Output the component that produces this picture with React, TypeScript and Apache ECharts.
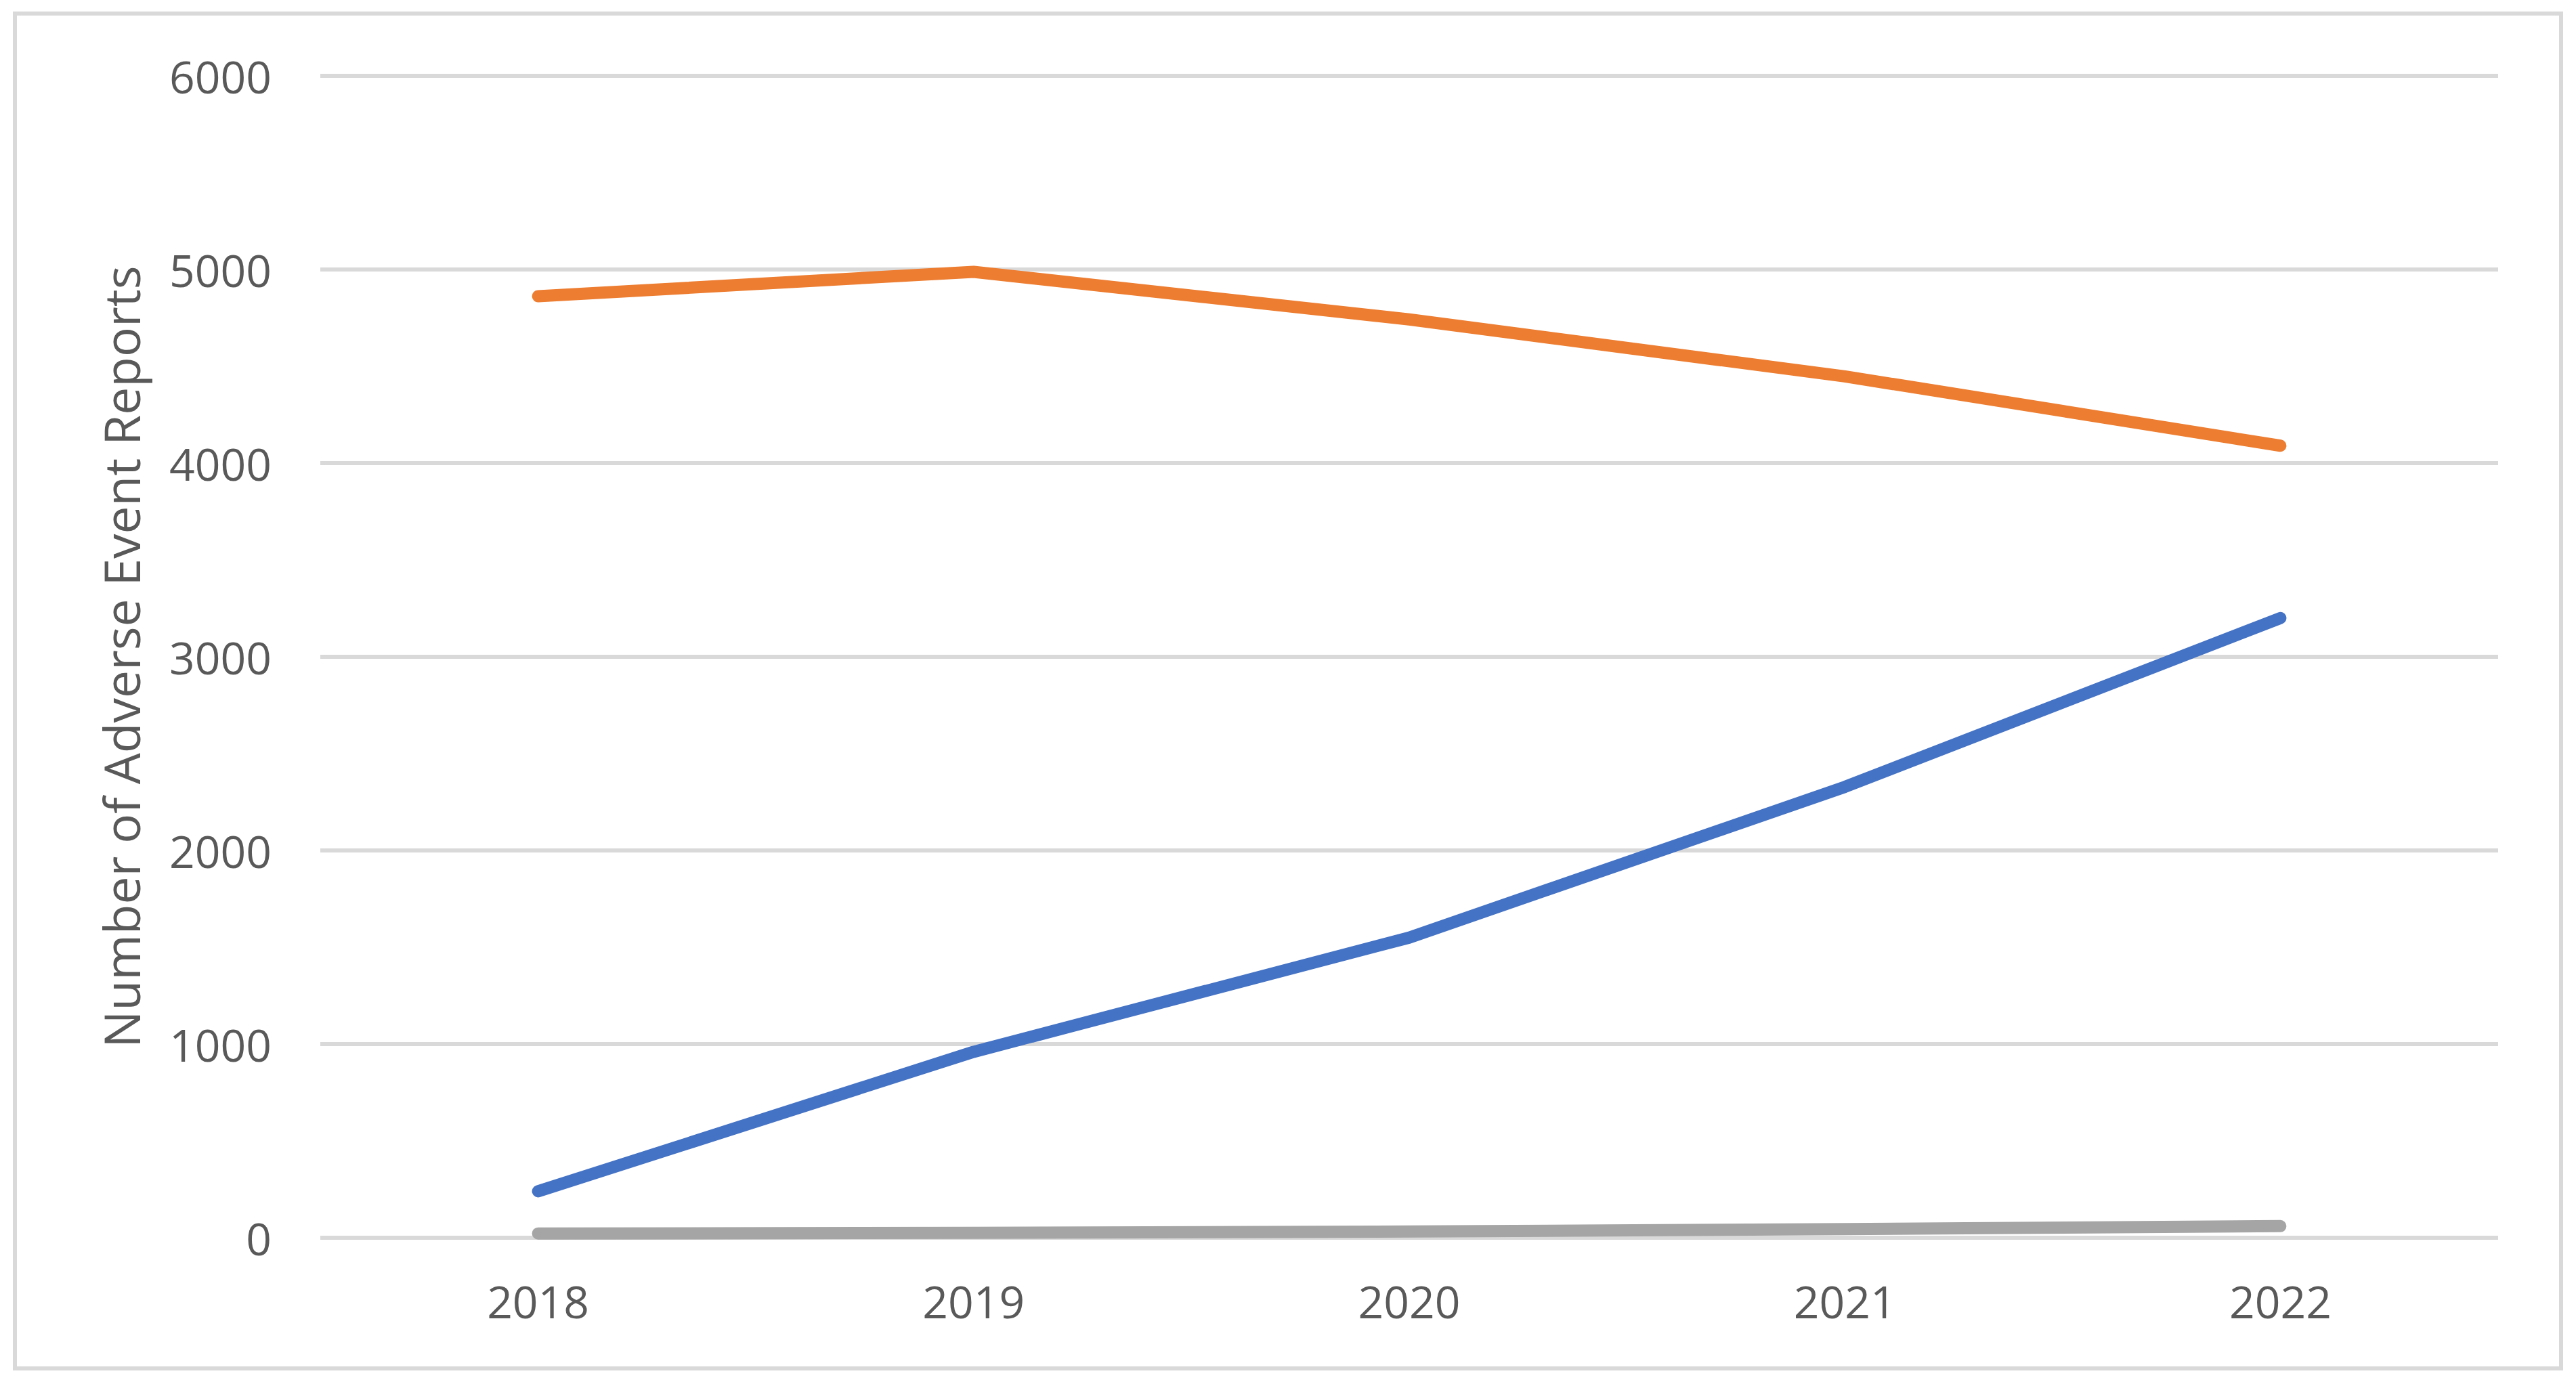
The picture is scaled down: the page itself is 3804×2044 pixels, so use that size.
import React, { useEffect, useRef } from "react";
import * as echarts from "echarts";

const years = ["2018", "2019", "2020", "2021", "2022"];
const orangeValues = [4862, 4988, 4742, 4448, 4090];
const blueValues = [240, 960, 1550, 2328, 3200];
const grayValues = [22, 25, 32, 45, 60];
const yTicks = { min: 0, max: 6000, interval: 1000 };
const yAxisTitle = "Number of Adverse Event Reports";

const FONT = "'Open Sans', sans-serif";
const TEXT = "#595959";

export default function App() {
  const ref = useRef<HTMLDivElement>(null);
  useEffect(() => {
    if (!ref.current) return;
    const chart = echarts.init(ref.current, undefined, { renderer: "svg" });
    const lineSeries = (name: string, data: number[], color: string) => ({
      name,
      type: "line",
      data,
      symbol: "none",
      smooth: false,
      lineStyle: { color, width: 18, cap: "round", join: "round" },
      itemStyle: { color },
      z: 3,
    });
    chart.setOption({
      animation: false,
      backgroundColor: "#ffffff",
      graphic: [
        {
          type: "rect",
          shape: { x: 22, y: 20, width: 3760, height: 2001 },
          style: { fill: "none", stroke: "#D9D9D9", lineWidth: 6 },
          silent: true,
        },
      ],
      grid: { left: 473, right: 115, top: 112, bottom: 216, containLabel: false },
      xAxis: {
        type: "category",
        data: years,
        boundaryGap: true,
        axisLine: { show: false },
        axisTick: { show: false },
        axisLabel: { color: TEXT, fontFamily: FONT, fontSize: 66, margin: 60 },
        splitLine: { show: false },
      },
      yAxis: {
        type: "value",
        min: yTicks.min,
        max: yTicks.max,
        interval: yTicks.interval,
        name: yAxisTitle,
        nameLocation: "middle",
        nameRotate: 90,
        nameGap: 258,
        nameTextStyle: { color: TEXT, fontFamily: FONT, fontSize: 73 },
        axisLine: { show: false },
        axisTick: { show: false },
        axisLabel: {
          color: TEXT,
          fontFamily: FONT,
          fontSize: 66,
          margin: 72,
          formatter: (v: number) => String(v),
        },
        splitLine: { show: true, lineStyle: { color: "#D9D9D9", width: 6 } },
      },
      series: [
        lineSeries("Series 1", blueValues, "#4472C4"),
        lineSeries("Series 2", orangeValues, "#ED7D31"),
        lineSeries("Series 3", grayValues, "#A5A5A5"),
      ],
    });
    return () => chart.dispose();
  }, []);
  return (
    <div
      ref={ref}
      style={{ position: "fixed", left: 0, top: 0, width: 3804, height: 2044, background: "#fff" }}
    />
  );
}
